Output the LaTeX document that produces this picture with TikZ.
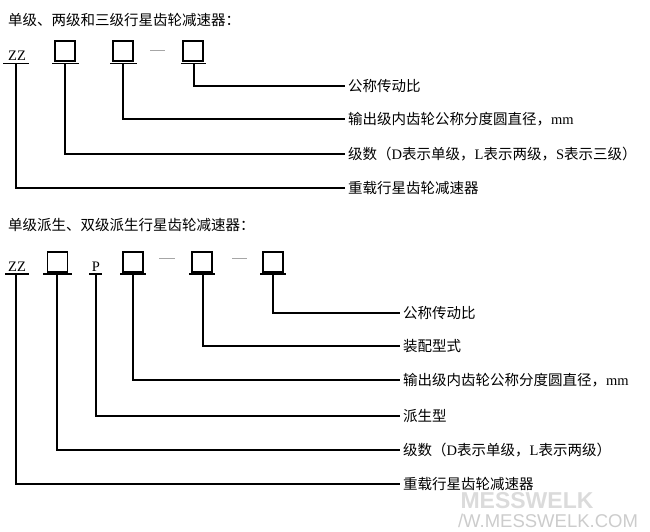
\documentclass[tikz,border=0pt]{standalone}
\usepackage{fontspec}
\setmainfont{Liberation Serif}
\newfontfamily\cjk{Noto Sans CJK SC}
\newfontfamily\wmfont{Liberation Sans}
\begin{document}
\begin{tikzpicture}[x=1pt,y=-1pt,
  ebox/.style={draw=black,line width=1.5pt,minimum width=20pt,minimum height=20pt,inner sep=0pt},
  code/.style={anchor=base,inner sep=0pt,font=\fontsize{14.5}{14.5}\selectfont},
  lab/.style={anchor=west,inner xsep=3pt,inner ysep=1pt,font=\fontsize{14.5}{16}\selectfont},
  ttl/.style={anchor=west,inner sep=0pt,font=\fontsize{14.5}{16}\selectfont},
  conn/.style={draw=black,line width=1.3pt},
  barline/.style={draw=black,line width=1.3pt},
  sep/.style={draw=gray!70,line width=0.9pt},
  wm/.style={inner sep=0pt,text=gray!40}]
\useasboundingbox (0,0) rectangle (650,531);
% watermark
\node[wm,font=\wmfont\bfseries\fontsize{23}{23}\selectfont,text=gray!28] (wm1) at (527,501) {MESSWELK};
\node[wm,font=\wmfont\fontsize{18.5}{18.5}\selectfont] (wm2) at (548,521) {/W.MESSWELK.COM};

% ---------- top diagram ----------
\node[ttl] (title1) at (8,20) {\cjk 单级、两级和三级行星齿轮减速器：};
\node[code] (zz1) at (17,60) {ZZ};
\node[ebox] (a1) at (65,51) {};
\node[ebox] (a2) at (123,51) {};
\node[ebox] (a3) at (193,51) {};
\coordinate (d1a) at (150,50); \coordinate (d1b) at (165,50);
\draw[sep] (d1a) -- (d1b);

\coordinate (k0) at (16,63.5);
\coordinate (k1) at (65,63.5);
\coordinate (k2) at (123,63.5);
\coordinate (k3) at (194,63.5);
\draw[barline] (3,63.5) -- (29,63.5);
\draw[barline] (52,63.5) -- (79,63.5);
\draw[barline] (110,63.5) -- (137,63.5);
\draw[barline] (181,63.5) -- (206,63.5);

\node[lab] (t1) at (345,86) {\cjk 公称传动比};
\node[lab] (t2) at (345,119) {{\cjk 输出级内齿轮公称分度圆直径，}mm};
\node[lab] (t3) at (345,154) {{\cjk 级数（}D{\cjk 表示单级，}L{\cjk 表示两级，}S{\cjk 表示三级）}};
\node[lab] (t4) at (345,188) {\cjk 重载行星齿轮减速器};

\draw[conn] (k3) |- (t1.west);
\draw[conn] (k2) |- (t2.west);
\draw[conn] (k1) |- (t3.west);
\draw[conn] (k0) |- (t4.west);

% ---------- bottom diagram ----------
\node[ttl] (title2) at (8,225) {\cjk 单级派生、双级派生行星齿轮减速器：};
\node[code] (zz2) at (17,271) {ZZ};
\node[ebox] (b1) at (57.5,262) {};
\node[code] (p) at (96,271) {P};
\node[ebox] (b2) at (133,262) {};
\node[ebox] (b3) at (202,262) {};
\node[ebox] (b4) at (273,262) {};
\coordinate (d2a) at (159,258); \coordinate (d2b) at (175,258);
\coordinate (d3a) at (232,258); \coordinate (d3b) at (247,258);
\draw[sep] (d2a) -- (d2b);
\draw[sep] (d3a) -- (d3b);

\coordinate (m0) at (16,274);
\coordinate (m1) at (57,274);
\coordinate (mp) at (96,274);
\coordinate (m2) at (133,274);
\coordinate (m3) at (203,274);
\coordinate (m4) at (273,274);
\draw[barline] (5,274) -- (29,274);
\draw[barline] (43,274) -- (72,274);
\draw[barline] (89,274) -- (102,274);
\draw[barline] (120,274) -- (146,274);
\draw[barline] (189,274) -- (215,274);
\draw[barline] (260,274) -- (286,274);

\node[lab] (s1) at (400,313) {\cjk 公称传动比};
\node[lab] (s2) at (400,346) {\cjk 装配型式};
\node[lab] (s3) at (400,380) {{\cjk 输出级内齿轮公称分度圆直径，}mm};
\node[lab] (s4) at (400,416) {\cjk 派生型};
\node[lab] (s5) at (400,450) {{\cjk 级数（}D{\cjk 表示单级，}L{\cjk 表示两级）}};
\node[lab] (s6) at (400,484) {\cjk 重载行星齿轮减速器};

\draw[conn] (m4) |- (s1.west);
\draw[conn] (m3) |- (s2.west);
\draw[conn] (m2) |- (s3.west);
\draw[conn] (mp) |- (s4.west);
\draw[conn] (m1) |- (s5.west);
\draw[conn] (m0) |- (s6.west);
\end{tikzpicture}
\end{document}
